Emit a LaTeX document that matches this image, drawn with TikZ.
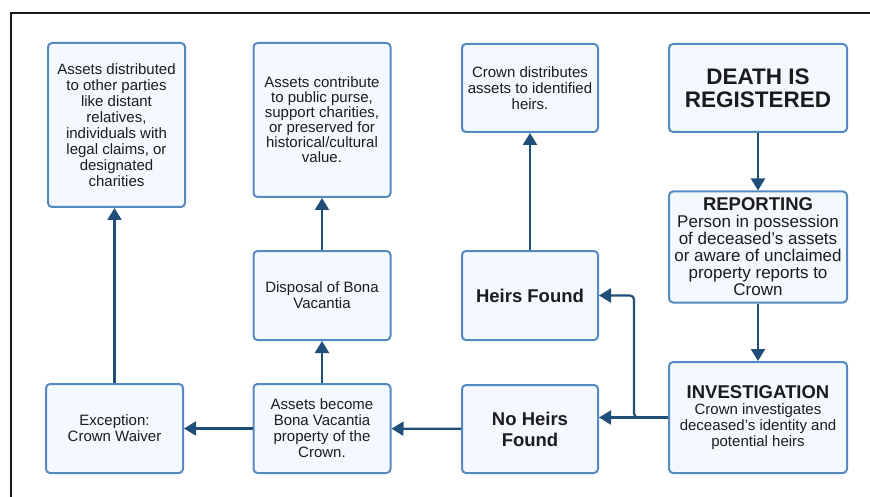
\documentclass[tikz,border=0pt]{standalone}
\usepackage{fontspec}
\setmainfont{Liberation Sans}
\usetikzlibrary{arrows.meta}
\tikzset{>={Triangle[width=14pt,length=12pt]}}
\definecolor{boxline}{RGB}{84,138,194}
\definecolor{boxfill}{RGB}{244,249,255}
\definecolor{flow}{RGB}{31,78,121}
\definecolor{ink}{RGB}{28,28,28}
\tikzset{
  stage/.style={draw=boxline, fill=boxfill, line width=2pt, rounded corners=4pt,
    align=center, text=ink, inner sep=2pt, font=\fontsize{15}{16}\selectfont},
  flowarrow/.style={draw=flow, line width=2.2pt, ->},
  head/.style={font=\fontsize{18.5}{21}\selectfont\bfseries}
}

\begin{document}
\begin{tikzpicture}[x=1pt, y=-1pt]
            \useasboundingbox (0,0) rectangle (870,497);
            \draw[line width=2pt, black!90] (11,497) -- (11,13) -- (870,13);

            % top row
            \node[stage, minimum width=137pt, minimum height=164pt] (others) at (116.5,125)
                {Assets distributed\\to other parties\\like distant\\relatives,\\individuals with\\legal claims, or\\designated\\charities};
            \node[stage, minimum width=137pt, minimum height=154pt, font=\fontsize{15}{15}\selectfont] (public) at (322,120)
                {Assets contribute\\to public purse,\\support charities,\\or preserved for\\historical/cultural\\value.};
            \node[stage, minimum width=136pt, minimum height=88pt] (heirs) at (530,88)
                {Crown distributes\\assets to identified\\heirs.};
            \node[stage, minimum width=178pt, minimum height=88pt, font=\fontsize{22.5}{23}\selectfont\bfseries] (death) at (758,88)
                {DEATH IS\\REGISTERED};

            % middle row
            \node[stage, minimum width=178pt, minimum height=111pt, font=\fontsize{17}{17}\selectfont] (report) at (758,247)
                {{\fontsize{18.5}{17}\selectfont\bfseries REPORTING}\\Person in possession\\of deceased's assets\\or aware of unclaimed\\property reports to\\Crown};
            \node[stage, minimum width=136pt, minimum height=89pt, head] (found) at (530,295.5)
                {Heirs Found};
            \node[stage, minimum width=137pt, minimum height=89pt] (disposal) at (322,295.5)
                {Disposal of Bona\\Vacantia};

            % bottom row
            \node[stage, minimum width=137pt, minimum height=89pt] (waiver) at (114.5,428.5)
                {Exception:\\Crown Waiver};
            \node[stage, minimum width=137pt, minimum height=89pt] (bona) at (322,428.5)
                {Assets become\\Bona Vacantia\\property of the\\Crown.};
            \node[stage, minimum width=136pt, minimum height=88pt, head] (noheirs) at (530,429)
                {No Heirs\\Found};
            \node[stage, minimum width=178pt, minimum height=111pt] (invest) at (758,417.5)
                {{\fontsize{18.5}{19}\selectfont\bfseries INVESTIGATION}\\Crown investigates\\deceased's identity and\\potential heirs};

            \coordinate (split) at (634,417.5);

            \draw[flowarrow] (death) -- (report);
            \draw[flowarrow] (report) -- (invest);
            \draw[flowarrow] (invest.west) -- (noheirs.east |- invest.west);
            \draw[flowarrow, rounded corners=4pt] (invest.west) -- (split) |- (found.east);
            \draw[flowarrow] (found) -- (heirs);
            \draw[flowarrow] (noheirs) -- (bona);
            \draw[flowarrow] (bona) -- (waiver);
            \draw[flowarrow] (bona) -- (disposal);
            \draw[flowarrow] (disposal) -- (public);
            \draw[flowarrow] (waiver.north) -- (waiver.north |- others.south);
        \end{tikzpicture}
\end{document}
